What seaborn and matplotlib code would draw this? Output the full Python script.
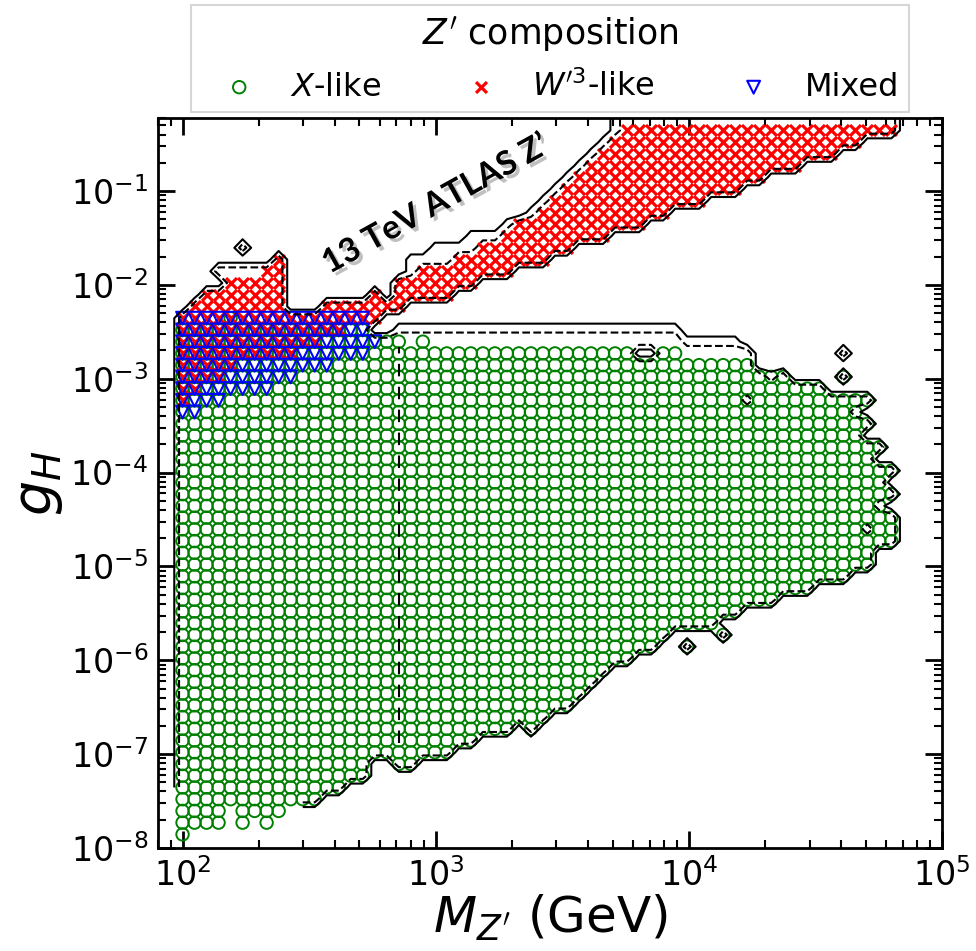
import warnings
import numpy as np
import pandas as pd
import matplotlib
matplotlib.use("Agg")
import matplotlib.pyplot as plt
import matplotlib.patheffects as pe
import seaborn as sns

warnings.filterwarnings("ignore")

# --- scan grid (log spaced) ---
mass_grid = np.logspace(2, 4.8, 60)              # M_Z' (GeV)
coupling_grid = np.logspace(-7.98, -0.355, 62)   # g_H

# --- X-like points: row index of the scan, first / last mass index in that row ---
x_rows = list(range(1, 46))
x_first = [0] * 44 + [4]
x_last = [0, 7, 8, 11, 13, 15, 19, 22, 24, 29, 30, 32, 33, 34, 35, 37, 39, 40, 44, 46,
          49, 52, 55, 57, 57, 59, 59, 59, 58, 59, 58, 59, 57, 58, 56, 57, 56, 57, 53, 50,
          47, 41, 20, 15, 4]
x_holes = [(2, 4), (2, 6), (3, 4), (7, 16), (7, 17), (10, 28), (42, 38), (42, 39), (43, 19)]
x_extra = [(17, 42), (18, 45), (40, 55)]

# --- W'3-like points ---
w_rows = [38, 39, 40, 41, 42, 43, 44, 45, 46, 46, 47, 47, 47, 48, 48, 49, 49, 50, 50,
          51, 52, 53, 54, 55, 56, 57, 58, 59, 60, 61]
w_first = [0, 0, 0, 0, 0, 0, 0, 0, 1, 12, 2, 16, 18, 4, 18, 7, 20, 8, 23,
           25, 27, 28, 30, 31, 32, 33, 34, 35, 36, 37]
w_last = [0, 1, 3, 4, 9, 11, 13, 16, 8, 18, 8, 16, 22, 8, 24, 8, 27, 8, 30,
          32, 35, 38, 40, 43, 46, 48, 51, 54, 56, 59]

# --- Mixed points ---
m_rows = [37, 38, 39, 40, 41, 42, 43, 44, 45]
m_first = [0, 0, 0, 0, 0, 0, 0, 0, 0]
m_last = [1, 3, 7, 9, 12, 15, 16, 15, 15]

# --- exclusion contour field extras (row, first, last, value) ---
halo_rows = [43, 44, 42, 43, 49, 49, 50, 51, 52, 53, 54, 55, 56, 57, 58, 59, 60, 61]
halo_first = [18, 18, 42, 42, 3, 19, 19, 21, 24, 27, 29, 30, 31, 32, 33, 34, 35, 36]
halo_last = [41, 41, 47, 46, 7, 19, 22, 24, 26, 27, 29, 30, 31, 32, 33, 34, 35, 36]
halo_value = [1.0, 0.6, 1.0, 0.5, 1.0] + [0.5] * 13
islands = [(51, 5), (42, 55)]
dips = [(38, 47), (40, 49), (37, 56), (29, 58), (27, 57)]
seam_mass = 714.0
seam_coupling = [1.3e-7, 2.2e-3]

x_ticks = [1e2, 1e3, 1e4, 1e5]
y_ticks = [1e-8, 1e-7, 1e-6, 1e-5, 1e-4, 1e-3, 1e-2, 1e-1]


def expand(rows, first, last):
    pts = []
    for j, a, b in zip(rows, first, last):
        pts += [(j, i) for i in range(a, b + 1)]
    return pts


def to_frame(pts):
    pts = sorted(pts)
    return pd.DataFrame({"M": [mass_grid[i] for j, i in pts],
                         "g": [coupling_grid[j] for j, i in pts]})


x_pts = (set(expand(x_rows, x_first, x_last)) - set(x_holes)) | set(x_extra)
w_pts = set(expand(w_rows, w_first, w_last))
m_pts = set(expand(m_rows, m_first, m_last))

# contour field on the scan grid
field = np.zeros((len(coupling_grid), len(mass_grid)))
for j, i in x_pts | w_pts | m_pts | set(islands):
    field[j, i] = 1.0
for j, a, b, v in zip(halo_rows, halo_first, halo_last, halo_value):
    field[j, a:b + 1] = np.maximum(field[j, a:b + 1], v)
for j, i in dips:
    field[j, i] = 0.5

field = np.pad(field, ((0, 1), (1, 2)))
field[-1] = field[-2]
mask = np.zeros_like(field, dtype=bool)
mask[:5, :11] = True
field = np.ma.array(field, mask=mask)
step_m = mass_grid[1] / mass_grid[0]
mass_pad = np.r_[mass_grid[0] / step_m, mass_grid, mass_grid[-1] * step_m, mass_grid[-1] * step_m ** 2]
coup_pad = np.r_[coupling_grid, coupling_grid[-1] ** 2 / coupling_grid[-2]]

# --- figure ---
sns.set_style("ticks")
plt.rcParams.update({"font.family": ["DejaVu Sans"], "text.color": "black",
                     "axes.labelcolor": "black", "xtick.color": "black",
                     "ytick.color": "black", "axes.edgecolor": "black"})
fig = plt.figure(figsize=(9.76, 9.51), dpi=100)
ax = fig.add_axes([158 / 976, 1 - 848 / 951, 784 / 976, 730 / 951])
ax.set_xscale("log")
ax.set_yscale("log")

sns.scatterplot(data=to_frame(x_pts), x="M", y="g", ax=ax, marker="o", s=80,
                facecolors="none", edgecolor="green", linewidth=1.4, label=r"$X$-like", zorder=2)
sns.scatterplot(data=to_frame(w_pts), x="M", y="g", ax=ax, marker="x", s=62,
                color="red", linewidth=2.3, label=r"$W^{\prime 3}$-like", zorder=3)
sns.scatterplot(data=to_frame(m_pts), x="M", y="g", ax=ax, marker="v", s=85,
                facecolors="none", edgecolor="blue", linewidth=1.5, label="Mixed", zorder=4)

ax.contour(mass_pad, coup_pad, field, levels=[0.3], colors="k", linewidths=1.5,
           linestyles="solid", zorder=5)
ax.contour(mass_pad, coup_pad, field, levels=[0.7], colors="k", linewidths=1.5,
           linestyles="dashed", zorder=5)
ax.plot([seam_mass, seam_mass], seam_coupling, color="k", lw=1.5, ls=(0, (6, 5)), zorder=5)

ax.text(1000, 0.072, "13 TeV ATLAS Z\u2019", rotation=29, ha="center", va="center",
        fontsize=24, fontweight="bold", color="black", family=["Lato", "DejaVu Sans"],
        path_effects=[pe.withSimplePatchShadow(offset=(2.5, -2.5), shadow_rgbFace="0.3", alpha=0.35)])

ax.set_xlim(80, 1e5)
ax.set_ylim(1e-8, 0.6)
ax.set_xticks(x_ticks)
ax.set_yticks(y_ticks)
ax.set_xlabel(r"$M_{Z^{\prime}}$ (GeV)", fontsize=36, labelpad=0)
ax.set_ylabel(r"$g_H$", fontsize=40, labelpad=4)
ax.tick_params(which="both", direction="in", top=True, right=True, labelsize=24)
ax.tick_params(which="major", length=12, width=2, pad=7)
ax.tick_params(which="minor", length=6, width=1.5)
for sp in ax.spines.values():
    sp.set_linewidth(2)

leg = ax.legend(loc="lower center", bbox_to_anchor=(0.5, 1.008), ncol=3,
                title=r"$Z'$ composition", fontsize=23, title_fontsize=25,
                frameon=True, fancybox=False, edgecolor="#cccccc",
                handlelength=2.4, handletextpad=0.4, columnspacing=1.9,
                borderaxespad=0, borderpad=0.3)
leg.get_frame().set_linewidth(1.5)

fig.savefig("out.png", dpi=100)
